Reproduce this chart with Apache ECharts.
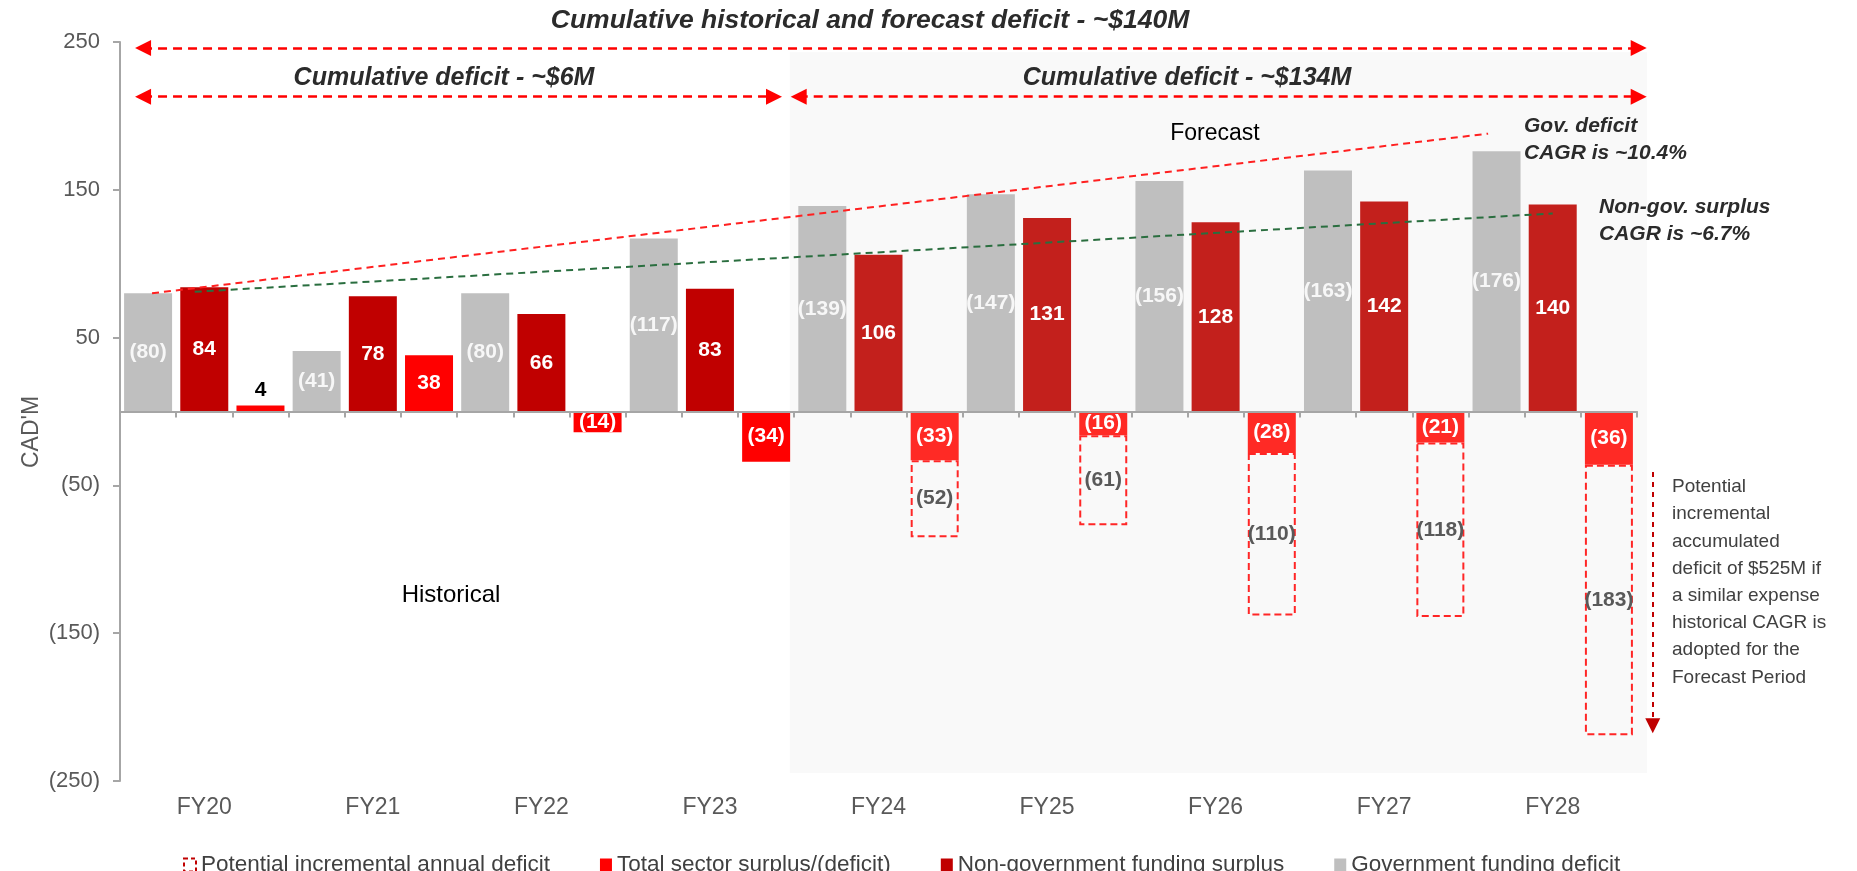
<!DOCTYPE html>
<html><head><meta charset="utf-8">
<script src="https://cdn.jsdelivr.net/npm/echarts@6/dist/echarts.min.js"></script>
<style>html,body{margin:0;padding:0;background:#fff}#c{width:1857px;height:871px}</style>
</head><body><div id="c"></div>
<script>
// ---- data ----
const categories = ['FY20','FY21','FY22','FY23','FY24','FY25','FY26','FY27','FY28'];
const govDeficit = [80, 41, 80, 117, 139, 147, 156, 163, 176];          // shown as (x)
const nonGovSurplus = [84, 78, 66, 83, 106, 131, 128, 142, 140];
const totalSector = [4, 38, -14, -34, -33, -16, -28, -21, -36];
const potentialIncremental = [null, null, null, null, -52, -61, -110, -118, -183];
const yTicks = [-250, -150, -50, 50, 150, 250];
// trend lines, in bar-slot units (3 slots per fiscal year) vs CAD'M
const govTrend = [[0.57, 80], [24.35, 188]];
const nonGovTrend = [[1.33, 81], [25.5, 134]];
// annotation spans (slot units, CAD'M)
const spanAll = [[0.41, 246], [27.03, 246]];
const spanHist = [[0.41, 213], [11.64, 213]];
const spanFcst = [[12.08, 213], [27.03, 213]];
const forecastArea = [[11.92, 243], [27.18, -244.6]];
const accumArrow = [[27.28, -41], [27.28, -212.7]];

const FF = '"Liberation Sans", Arial, Helvetica, sans-serif';
const gridLeft = 120, gridRight = 220, W = 1857;
const plotW = W - gridLeft - gridRight;
const slot = plotW / (categories.length * 3);
const fmtNeg = v => v < 0 ? '(' + (-v) + ')' : String(v);
const isFcst = i => i >= 4;

const chart = echarts.init(document.getElementById('c'), null, {renderer: 'canvas'});
const barLabel = (color) => ({show: true, position: 'inside', color: color, fontWeight: 'bold', fontSize: 21, fontFamily: FF});

chart.setOption({
  animation: false,
  backgroundColor: '#ffffff',
  textStyle: {fontFamily: FF},
  grid: [
    {left: gridLeft, right: gridRight, top: 42, bottom: 90},
    {left: gridLeft, width: slot * 29, top: 42, bottom: 90}
  ],
  xAxis: [
    {type: 'category', gridIndex: 0, data: categories, position: 'bottom',
     axisLine: {show: false, onZero: false}, axisTick: {show: false},
     axisLabel: {fontSize: 23, color: '#595959', margin: 15, fontFamily: FF}},
    {type: 'category', gridIndex: 0, data: categories.flatMap(() => ['', '', '']), position: 'bottom', z: 5,
     axisLine: {show: true, onZero: true, lineStyle: {color: '#a6a6a6', width: 2}},
     axisTick: {show: true, interval: 0, length: 6, lineStyle: {color: '#a6a6a6', width: 2}},
     axisLabel: {show: false, interval: 0}},
    {type: 'value', gridIndex: 1, min: 0, max: 29, show: false}
  ],
  yAxis: [
    {type: 'value', gridIndex: 0, min: -250, max: 250, z: 5,
     axisLine: {show: true, lineStyle: {color: '#a6a6a6', width: 2}},
     axisTick: {show: true, length: 7, customValues: yTicks, lineStyle: {color: '#a6a6a6', width: 2}},
     axisLabel: {customValues: yTicks, formatter: v => fmtNeg(v), fontSize: 22, color: '#595959', margin: 20, fontFamily: FF},
     splitLine: {show: false}},
    {type: 'value', gridIndex: 1, min: -250, max: 250, show: false}
  ],
  legend: {
    left: 178, top: 846, itemWidth: 12, itemHeight: 13, itemGap: 50, selectedMode: false,
    textStyle: {fontSize: 22.5, color: '#404040', fontFamily: FF, lineHeight: 28},
    data: [
      {name: 'Potential incremental annual deficit', icon: 'rect',
       itemStyle: {color: 'rgba(0,0,0,0)', borderColor: '#c00000', borderWidth: 2, borderType: [4, 3]}},
      {name: 'Total sector surplus/(deficit)', icon: 'rect', itemStyle: {color: '#ff0000'}},
      {name: 'Non-government funding surplus', icon: 'rect', itemStyle: {color: '#c00000'}},
      {name: 'Government funding deficit', icon: 'rect', itemStyle: {color: '#bfbfbf'}}
    ]
  },
  series: [
    {name: 'Government funding deficit', type: 'bar', xAxisIndex: 0, yAxisIndex: 0,
     data: govDeficit, barWidth: 48, barGap: '17.06%',
     itemStyle: {color: '#bfbfbf'},
     label: Object.assign(barLabel('#f7f7f7'), {formatter: p => '(' + p.value + ')'})},
    {name: 'Non-government funding surplus', type: 'bar', xAxisIndex: 0, yAxisIndex: 0,
     data: nonGovSurplus, barWidth: 48, barGap: '17.06%',
     itemStyle: {color: p => isFcst(p.dataIndex) ? '#c3201c' : '#c00000'},
     label: barLabel('#ffffff')},
    {name: 'Total sector surplus/(deficit)', type: 'bar', xAxisIndex: 0, yAxisIndex: 0, stack: 'total',
     data: totalSector.map(v => (v >= 0 && v < 15) ? {value: v, label: {position: 'top', color: '#000000'}} : v),
     barWidth: 48, barGap: '17.06%',
     itemStyle: {color: p => isFcst(p.dataIndex) ? '#ff2a25' : '#ff0000'},
     label: Object.assign(barLabel('#ffffff'), {formatter: p => fmtNeg(p.value)})},
    {name: 'Potential incremental annual deficit', type: 'bar', xAxisIndex: 0, yAxisIndex: 0, stack: 'total',
     data: potentialIncremental, barWidth: 48, barGap: '17.06%',
     itemStyle: {color: 'rgba(0,0,0,0)', borderColor: '#ff2626', borderWidth: 2, borderType: [7, 4]},
     label: Object.assign(barLabel('#595959'), {formatter: p => fmtNeg(p.value)})},
    // forecast shading + spans
    {type: 'line', xAxisIndex: 2, yAxisIndex: 1, data: [], clip: false, silent: true, z: 1,
     markArea: {silent: true, z: 1, itemStyle: {color: '#f9f9f9'},
       data: [[{coord: forecastArea[0]}, {coord: forecastArea[1]}]]},
     markLine: {silent: true, symbol: ['triangle', 'triangle'], symbolSize: [16, 16],
       lineStyle: {color: '#ff0000', width: 2.5, type: [9, 6]}, label: {show: false},
       data: [spanAll, spanHist, spanFcst].map(s => [{coord: s[0]}, {coord: s[1]}])}},
    {type: 'line', xAxisIndex: 2, yAxisIndex: 1, data: [], clip: false, silent: true, z: 6,
     markLine: {silent: true, symbol: ['none', 'triangle'], symbolSize: [15, 15],
       lineStyle: {color: '#c00000', width: 2, type: [5, 5]}, label: {show: false},
       data: [[{coord: accumArrow[0]}, {coord: accumArrow[1]}]]}},
    {type: 'line', xAxisIndex: 2, yAxisIndex: 1, data: govTrend, symbol: 'none', silent: true, z: 6,
     lineStyle: {color: '#ff2020', width: 2, type: [7, 5]}},
    {type: 'line', xAxisIndex: 2, yAxisIndex: 1, data: nonGovTrend, symbol: 'none', silent: true, z: 6,
     lineStyle: {color: '#2a6e3f', width: 2, type: [7, 5]}}
  ],
  graphic: [
    {type: 'text', x: 870, y: 21, z: 10, style: {text: 'Cumulative historical and forecast deficit - ~$140M', fontFamily: FF, fontSize: 26.5, fontWeight: 'bold', fontStyle: 'italic', fill: '#2b2b2b', align: 'center', verticalAlign: 'middle'}},
    {type: 'text', x: 444, y: 78, z: 10, style: {text: 'Cumulative deficit - ~$6M', fontFamily: FF, fontSize: 25, fontWeight: 'bold', fontStyle: 'italic', fill: '#2b2b2b', align: 'center', verticalAlign: 'middle'}},
    {type: 'text', x: 1187, y: 78, z: 10, style: {text: 'Cumulative deficit - ~$134M', fontFamily: FF, fontSize: 25, fontWeight: 'bold', fontStyle: 'italic', fill: '#2b2b2b', align: 'center', verticalAlign: 'middle'}},
    {type: 'text', x: 1215, y: 134, z: 10, style: {text: 'Forecast', fontFamily: FF, fontSize: 23, fill: '#000000', align: 'center', verticalAlign: 'middle'}},
    {type: 'text', x: 451, y: 595, z: 10, style: {text: 'Historical', fontFamily: FF, fontSize: 24, fill: '#000000', align: 'center', verticalAlign: 'middle'}},
    {type: 'text', x: 1524, y: 112.5, z: 10, style: {text: 'Gov. deficit\nCAGR is ~10.4%', fontFamily: FF, fontSize: 21, fontWeight: 'bold', fontStyle: 'italic', fill: '#2b2b2b', lineHeight: 27, align: 'left', verticalAlign: 'top'}},
    {type: 'text', x: 1599, y: 193.5, z: 10, style: {text: 'Non-gov. surplus\nCAGR is ~6.7%', fontFamily: FF, fontSize: 21, fontWeight: 'bold', fontStyle: 'italic', fill: '#2b2b2b', lineHeight: 27, align: 'left', verticalAlign: 'top'}},
    {type: 'text', x: 1672, y: 473.4, z: 10, style: {text: 'Potential\nincremental\naccumulated\ndeficit of $525M if\na similar expense\nhistorical CAGR is\nadopted for the\nForecast Period', fontFamily: FF, fontSize: 19, fill: '#404040', lineHeight: 27.2, align: 'left', verticalAlign: 'top'}},
    {type: 'text', x: 32, y: 432, rotation: Math.PI / 2, z: 10, style: {text: "CAD'M", fontFamily: FF, fontSize: 23, fill: '#595959', align: 'center', verticalAlign: 'middle'}}
  ]
});
</script></body></html>
